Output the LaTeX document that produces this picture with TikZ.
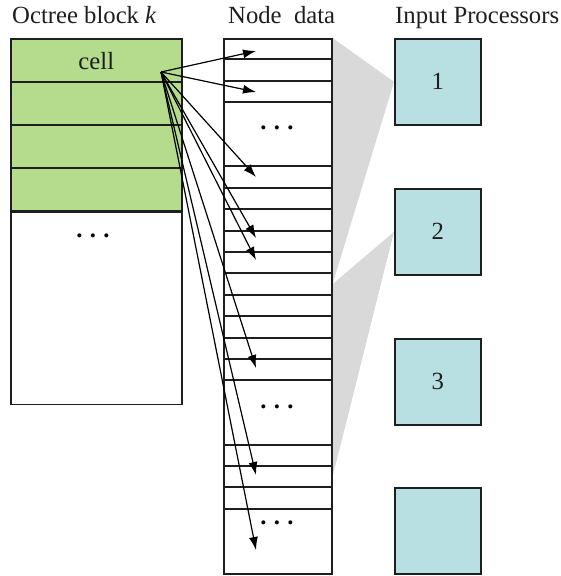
\documentclass[tikz,border=0pt]{standalone}
\usepackage{fontspec}
\setmainfont{Liberation Serif}
\usepackage{xcolor}
\definecolor{octGreen}{HTML}{B4DC8C}
\definecolor{procCyan}{HTML}{B8E0E3}
\definecolor{wedgeGrey}{HTML}{D9D9D9}
\definecolor{inkDark}{HTML}{1E1E1E}
\usepackage{tikz}
\usetikzlibrary{arrows.meta, positioning, backgrounds}
\newcommand{\rowh}{21.4}
\newcommand{\Points}{\bfseries.\hspace{0.3em}.\hspace{0.3em}.}
\tikzset{
  %% ── Boxes ────────────────────────────────────────────────────────────
  cellule/.style    = {draw=inkDark, line width=1.6pt, fill=octGreen,
                       minimum width=171pt, minimum height=43pt,
                       inner sep=0pt, anchor=north west},
  celluleVide/.style = {cellule, fill=white, minimum height=192pt},
  colonne/.style    = {draw=inkDark, line width=1.6pt, fill=white,
                       minimum width=108pt, minimum height=535pt,
                       inner sep=0pt, anchor=north west},
  proc/.style       = {draw=inkDark, line width=1.6pt, fill=procCyan,
                       minimum width=86pt, minimum height=86pt,
                       inner sep=0pt, anchor=north west},
  %% ── Lines ────────────────────────────────────────────────────────────
  trait/.style      = {draw=inkDark, line width=1.7pt},
  fleche/.style     = {-{Latex[length=13pt, width=9pt]}, draw=black,
                       line width=1.2pt},
  %% ── Text ─────────────────────────────────────────────────────────────
  titre/.style      = {anchor=base west, inner sep=0pt, text=inkDark},
  points/.style     = {inner sep=0pt, text=black},
}

\begin{document}
\begin{tikzpicture}[x=1pt, y=-1pt, font=\fontsize{24.7}{29}\selectfont]
\useasboundingbox (0,0) rectangle (560,576);

% column titles
\node[titre] (tOct) at (12,23) {Octree block \textit{k}};
\node[titre] (tNode) at (228,23) {Node~ data};
\node[titre] (tProc) at (395,23) {Input Processors};

% octree block: four filled cells, then the rest
\foreach \i in {1,...,4}
  \node[cellule] (cell\i) at (10,{38+(\i-1)*43}) {};
\node[celluleVide] (reste) at (cell4.south west) {};
\node[inner sep=0pt, text=inkDark] (lblCell) at ([yshift=-1pt]cell1.center) {cell};
\node[points] (ptsOct) at (93,236) {\Points};

% node data column and its row rules (snapped to whole points)
\node[colonne] (nd) at (223,38) {};
\foreach \k in {1,2,3,6,7,...,16,19,20,21,22}
  \draw[trait] (nd.west |- 0,{round(38+\k*\rowh)}) -- (nd.east |- 0,{round(38+\k*\rowh)});
\node[points] (ptsA) at (277,128) {\Points};
\node[points] (ptsB) at (277,407) {\Points};
\node[points] (ptsC) at (277,523) {\Points};

% input processors
\foreach \i/\txt in {1/1, 2/2, 3/3, 4/{}}
  \node[proc, text=inkDark] (p\i) at (394,{round(38+(\i-1)*7*\rowh)}) {\txt};

% shaded ranges from the column to each processor
\coordinate (coupe1) at (nd.east |- 0,{38+11.5*\rowh});
\coordinate (coupe2) at (nd.east |- 0,{38+20.5*\rowh});
\begin{scope}[on background layer]
  \fill[wedgeGrey] (nd.north east) -- (p1.west) -- (coupe1) -- cycle;
  \fill[wedgeGrey] (coupe1) -- (p2.west) -- (coupe2) -- cycle;
\end{scope}

% references from the cell into the node data
\coordinate (src) at (161,72);
\foreach \n/\y in {1/51, 2/92, 3/177, 4/238, 5/260, 6/368, 7/475, 8/550} {
  \coordinate (pointe\n) at (256,\y);
  \draw[fleche] (src) -- (pointe\n);
}

\end{tikzpicture}
\end{document}
